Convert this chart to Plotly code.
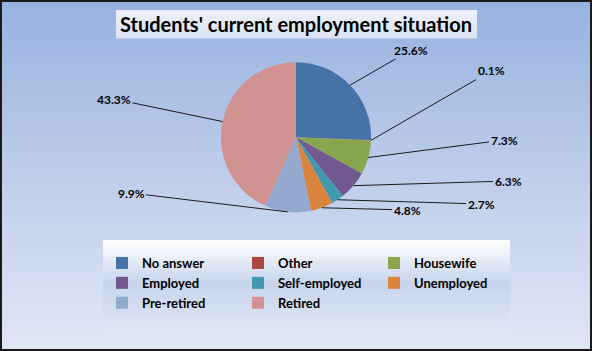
import math
import plotly.graph_objects as go

# ---------------- data ----------------
categories = ["No answer", "Other", "Housewife", "Employed", "Self-employed",
              "Unemployed", "Pre-retired", "Retired"]
shares = [25.6, 0.1, 7.3, 6.3, 2.7, 4.8, 9.9, 43.3]
colors = ["#4572A7", "#AA4643", "#89A54E", "#71588F", "#4198AF",
          "#DB843D", "#93A9CF", "#D19392"]
title_text = "Students' current employment situation"

# ---------------- layout / style ----------------
W, H = 592, 351
ML, MR = 56, 56            # side margins (limit legend to three columns)
PW = W - ML - MR           # plot-area width
FONT = "Lato"
dom_x = [0.1, 0.9]
dom_y = [0.395, 0.823]
# label text centres (pixels) for each slice, in category order
label_px = [(411, 50), (491, 71), (504, 140), (508, 181), (481, 204),
            (407, 210), (131, 193), (114, 99)]


def px_x(px):
    return (px - ML) / PW


def px_y(py):
    return 1 - py / H


def lerp_color(c1, c2, t):
    a = [int(c1[i:i + 2], 16) for i in (1, 3, 5)]
    b = [int(c2[i:i + 2], 16) for i in (1, 3, 5)]
    return "#%02x%02x%02x" % tuple(round(a[k] + (b[k] - a[k]) * t) for k in range(3))


def gradient(x0, x1, y0, y1, stops, n=40):
    """vertical gradient of rectangles in pixel coords (y down)"""
    out = []
    for i in range(n):
        t = i / (n - 1)
        for j in range(len(stops) - 1):
            if stops[j][0] <= t <= stops[j + 1][0]:
                tt = (t - stops[j][0]) / (stops[j + 1][0] - stops[j][0])
                col = lerp_color(stops[j][1], stops[j + 1][1], tt)
                break
        ya = y0 + (y1 - y0) * i / n
        yb = y0 + (y1 - y0) * (i + 1) / n + 0.6
        out.append(dict(type="rect", xref="paper", yref="paper", layer="below",
                        x0=px_x(x0), x1=px_x(x1), y0=px_y(yb), y1=px_y(ya),
                        fillcolor=col, line=dict(width=0)))
    return out


shapes = []
shapes += gradient(0, W, 0, H, [(0, "#98b2e1"), (0.5, "#bfcdea"), (1, "#e1e7f5")], n=60)
shapes += gradient(116, 477, 10, 38, [(0, "#edf1f9"), (1, "#dce3f2")], n=12)
shapes += gradient(103, 510, 240, 335, [(0, "#ffffff"), (0.45, "#c7d4ec"), (1, "#e0e7f4")], n=40)
shapes.append(dict(type="rect", xref="paper", yref="paper",
                   x0=px_x(1), x1=px_x(W - 1), y0=px_y(H - 1), y1=px_y(1),
                   line=dict(color="#1a1a1a", width=2), fillcolor="rgba(0,0,0,0)"))

fig = go.Figure()
fig.add_trace(go.Pie(
    labels=categories, values=shares, sort=False, direction="clockwise",
    rotation=0, marker=dict(colors=colors, line=dict(width=0)),
    textinfo="none", hoverinfo="label+percent",
    domain=dict(x=dom_x, y=dom_y),
))

# pie geometry (same formula plotly uses): radius = min(box w, box h) / 2
bw = PW * (dom_x[1] - dom_x[0])
bh = H * (dom_y[1] - dom_y[0])
r = min(bw, bh) / 2
cx = ML + PW * (dom_x[0] + dom_x[1]) / 2
cy = H * (1 - (dom_y[0] + dom_y[1]) / 2)

total = sum(shares)
annotations = []
cum = 0.0
for cat, v, (lx, ly) in zip(categories, shares, label_px):
    mid = (cum + v / 2) / total * 2 * math.pi
    cum += v
    ex = cx + r * math.sin(mid)
    ey = cy - r * math.cos(mid)
    annotations.append(dict(
        x=px_x(ex), y=px_y(ey), xref="paper", yref="paper",
        ax=lx - ex, ay=ly - ey, axref="pixel", ayref="pixel",
        text="<b>%.1f%%</b>" % (v / total * 100), showarrow=True, arrowhead=0,
        arrowwidth=1, arrowcolor="#1a1a1a", standoff=0,
        font=dict(family=FONT, size=12, color="#000000"),
    ))

annotations.append(dict(
    x=px_x(296), y=px_y(24), xref="paper", yref="paper", showarrow=False,
    xanchor="center", yanchor="middle",
    text="<b>" + title_text + "</b>",
    font=dict(family=FONT, size=20, color="#000000"),
))

fig.update_layout(
    width=W, height=H, margin=dict(l=ML, r=MR, t=0, b=0, pad=0),
    paper_bgcolor="#c0cdea", plot_bgcolor="rgba(0,0,0,0)",
    showlegend=True,
    legend=dict(orientation="h", x=px_x(102), y=px_y(248), xanchor="left", yanchor="top",
                bgcolor="rgba(0,0,0,0)", entrywidth=91, entrywidthmode="pixels",
                font=dict(family=FONT, size=13, color="#000000", weight="bold"),
                traceorder="normal"),
    shapes=shapes, annotations=annotations,
)

fig.write_html("out.html")
